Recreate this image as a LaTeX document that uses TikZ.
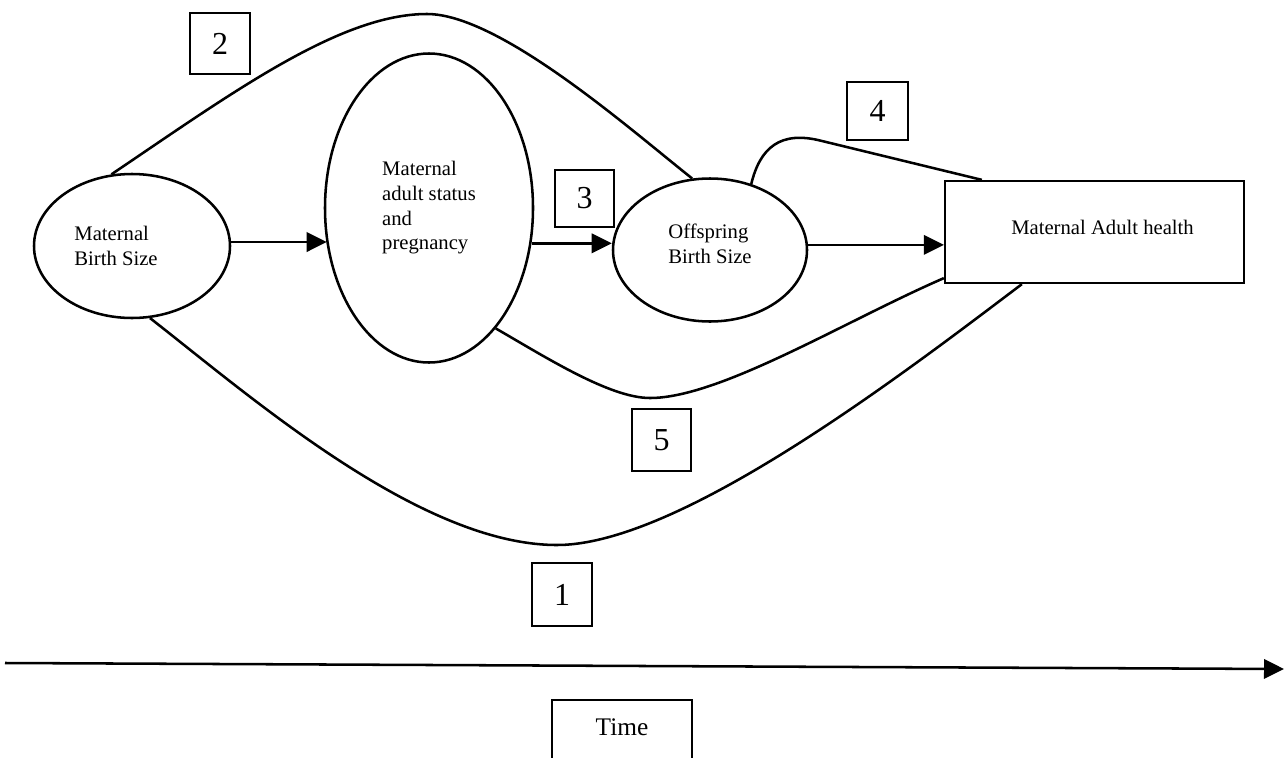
\documentclass[tikz,border=0pt]{standalone}
\usepackage{fontspec}
\setmainfont{Liberation Serif}
\usetikzlibrary{arrows.meta,calc,shapes.geometric}
\begin{document}
\begin{tikzpicture}[x=0.75pt,y=-0.75pt,
  lw/.style={line width=1.9pt},
  ell/.style={ellipse, draw, lw, inner sep=0pt, font=\fontsize{15.5}{18.5}\selectfont, align=left},
  hbox/.style={rectangle, draw, line width=1.7pt, inner sep=0pt, font=\fontsize{15.5}{18.5}\selectfont},
  numbox/.style={rectangle, draw, line width=1.6pt, inner sep=0pt, font=\fontsize{24}{24}\selectfont},
  arr/.style={lw, -{Triangle[length=15pt,width=14.5pt]}},
  link/.style={lw},
]
\useasboundingbox (0,0) rectangle (1285,757);
\clip (0,0) rectangle (1285,757);

% main nodes
\node[ell, minimum width=147pt, minimum height=108pt] (mbs) at (132,246) {Maternal\\Birth Size\hspace*{24pt}\mbox{}};
\node[ell, minimum width=156pt, minimum height=231.75pt] (mas) at (429,208) {Maternal\\adult status\\and\\pregnancy};
\node[ell, minimum width=145.5pt, minimum height=107.25pt, text depth=9pt] (off) at (710,250) {Offspring\\Birth Size};
\node[hbox, minimum width=224.25pt, minimum height=76.5pt, text depth=7.5pt] (mah) at (1094.5,232) {\hspace*{12pt}Maternal Adult health};

% number boxes
\node[numbox, minimum width=45pt, minimum height=45.75pt] (n2) at (220,43.5) {2};
\node[numbox, minimum width=44.25pt, minimum height=42.75pt] (n3) at (584.5,198.5) {3};
\node[numbox, minimum width=45.75pt, minimum height=43.5pt] (n4) at (877.5,111) {4};
\node[numbox, minimum width=44.25pt, minimum height=46.5pt] (n5) at (661.5,440) {5};
\node[numbox, minimum width=45pt, minimum height=47.25pt] (n1) at (562,594.5) {1};

% straight arrows
\path (mbs.east) ++(0,-4) coordinate (a1);
\path (a1 -| mas.west) ++(3,0) coordinate (a2);
\draw[arr] (a1) -- (a2);
\draw[arr] (mas.-19.6) -- (mas.-19.6 -| off.west);
\draw[arr] (off.3) -- (off.3 -| mah.west);

% curved links
\coordinate (e4) at ($(mah.north west)+(38,0)$);
\coordinate (e5) at ($(mah.south west)+(0,-6)$);
\coordinate (e1) at ($(mah.south west)+(78,0)$);
\coordinate (p2) at (427,14);
\coordinate (p4) at (822,141);
\coordinate (p5) at (650,398);
\coordinate (p1) at (557,545);

\draw[link] (mbs.106) .. controls (232,93) and (340,14) .. (p2)
  .. controls (500,14) and (632,131) .. (off.104);
\draw[link] (off.58) .. controls (760,148) and (780,130) .. (p4) -- (e4);
\draw[link] (mas.-61) .. controls (547,358) and (610,398) .. (p5)
  .. controls (720,398) and (845,321) .. (e5);
\draw[link] (mbs.-76) .. controls (250,396) and (420,545) .. (p1)
  .. controls (680,545) and (903,374) .. (e1);

% time axis
\coordinate (t0) at (5,663);
\coordinate (t1) at (1284,669);
\draw[arr] (t0) -- (t1);
\node[rectangle, draw, line width=1.6pt, minimum width=105pt, minimum height=60pt, anchor=north] (timebox) at (622,699) {};
\node[font=\fontsize{19}{19}\selectfont] (time) at (622,727) {Time};
\end{tikzpicture}
\end{document}
